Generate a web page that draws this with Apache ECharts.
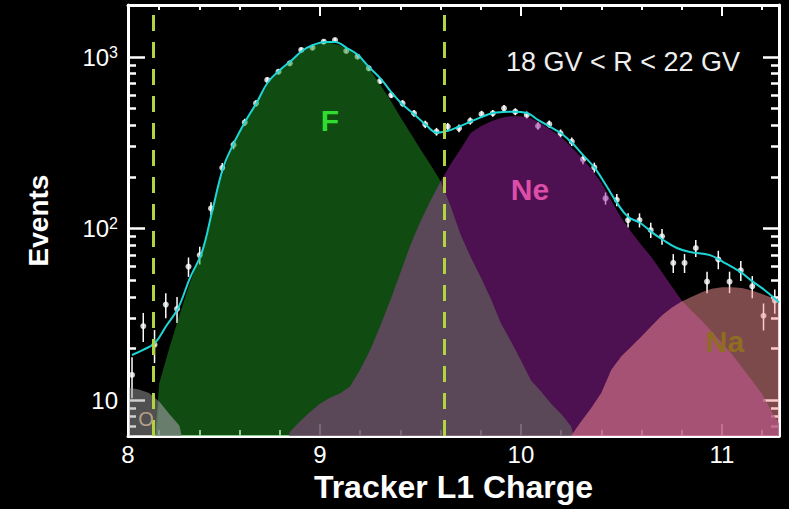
<!DOCTYPE html>
<html><head><meta charset="utf-8">
<script src="https://cdn.jsdelivr.net/npm/echarts@6/dist/echarts.min.js"></script>
<style>html,body{margin:0;padding:0;background:#000;} #c{width:789px;height:509px;}</style>
</head><body><div id="c"></div>
<script>
// ---------- data ----------
const binCenters = [8.065, 8.121, 8.177, 8.233, 8.289, 8.346, 8.402, 8.458, 8.514, 8.570,
  8.626, 8.682, 8.738, 8.794, 8.850, 8.907, 8.963, 9.019, 9.075, 9.131,
  9.187, 9.243, 9.299, 9.355, 9.411, 9.468, 9.524, 9.580, 9.636, 9.692,
  9.748, 9.804, 9.860, 9.916, 9.972, 10.029, 10.085, 10.141, 10.197, 10.253,
  10.309, 10.365, 10.421, 10.477, 10.533, 10.590, 10.646, 10.702, 10.758, 10.814,
  10.870, 10.926, 10.982, 11.038, 11.094, 11.151, 11.207, 11.263];
const eventCounts = [14, 27, 21, 36, 34, 60, 70, 131, 226, 307,
  416, 537, 735, 821, 919, 1099, 1133, 1228, 1256, 1084,
  1004, 859, 724, 600, 537, 470, 405, 367, 393, 384,
  424, 464, 470, 502, 480, 459, 396, 406, 359, 321,
  253, 227, 150, 147, 112, 112, 98, 90, 63, 63,
  77, 49, 66, 49, 57, 46, 31, 38];

const fitCharge = [8.065, 8.12, 8.179, 8.235, 8.294, 8.353, 8.413, 8.463, 8.518, 8.567,
  8.627, 8.687, 8.742, 8.801, 8.861, 8.911, 8.965, 9.025, 9.075, 9.134,
  9.189, 9.244, 9.308, 9.358, 9.41, 9.473, 9.528, 9.582, 9.637, 9.69,
  9.746, 9.80, 9.861, 9.91, 9.96, 10.03, 10.085, 10.145, 10.204, 10.254,
  10.309, 10.368, 10.428, 10.478, 10.533, 10.592, 10.652, 10.706, 10.776, 10.841,
  10.94, 11.005, 11.09, 11.154, 11.21, 11.264, 11.284];
const fitEvents = [18.3, 19.6, 21.5, 27, 34.3, 51.4, 72.9, 125, 225, 307,
  418, 547, 715, 840, 961, 1084, 1175, 1223, 1223, 1128,
  1027, 874, 734, 617, 530, 459, 401, 362, 372, 392,
  418, 445, 471, 478, 480, 471, 430, 391, 356, 316,
  268, 225, 175, 141, 117, 108, 95, 86, 77, 73,
  70, 64, 56, 49, 44, 39, 37];

const charge = [8.05, 8.10, 8.15, 8.20, 8.25, 8.30, 8.35, 8.40, 8.45, 8.50,
  8.55, 8.60, 8.65, 8.70, 8.75, 8.80, 8.85, 8.90, 8.95, 9.00,
  9.05, 9.10, 9.15, 9.20, 9.25, 9.30, 9.35, 9.40, 9.45, 9.50,
  9.55, 9.60, 9.65, 9.70, 9.75, 9.80, 9.85, 9.90, 9.95, 10.00,
  10.05, 10.10, 10.15, 10.20, 10.25, 10.30, 10.35, 10.40, 10.45, 10.50,
  10.55, 10.60, 10.65, 10.70, 10.75, 10.80, 10.85, 10.90, 10.95, 11.00,
  11.05, 11.10, 11.15, 11.20, 11.25, 11.30];
const fluorine = [null, null, 2, 12.5, 20, 31, 47, 68, 105, 183,
  272, 360, 460, 575, 720, 828, 925, 1045, 1138, 1190,
  1210, 1168, 1083, 980, 840, 690, 561, 447, 360, 290,
  235, 189, 135, 92, 68, 52, 39, 28, 22, 17,
  13, 11.2, 9.5, 8.3, 7.0, 4, null, null, null, null,
  null, null, null, null, null, null, null, null, null, null,
  null, null, null, null, null, null];
const neon = [null, null, null, null, null, null, null, null, null, null,
  null, null, null, null, null, 3, 6.5, 7.5, 8.5, 9.5,
  10.3, 10.9, 12, 15, 19.6, 27, 38, 55, 80, 110,
  145, 188, 237, 291, 360, 395, 420, 441, 452, 452,
  440, 410, 375, 342, 300, 260, 222, 185, 145, 115,
  95, 80, 68, 56, 46, 38, 33, 29, 25, 21.5,
  18.5, 15.5, 13, 10.8, 8.5, 6.8];
const sodium = [null, null, null, null, null, null, null, null, null, null,
  null, null, null, null, null, null, null, null, null, null,
  null, null, null, null, null, null, null, null, null, null,
  null, null, null, null, null, null, null, null, null, null,
  null, null, null, 3, 6.2, 7.5, 9, 11, 15, 18,
  20.5, 23.5, 27, 31, 34.5, 37.5, 40, 42.5, 44.5, 45.5,
  45.5, 45, 43.5, 41.5, 39.5, 37.5];
const oxygen = [11.8, 11.5, 11.0, 9.8, 8.3, 7.1, 4, null, null, null,
  null, null, null, null, null, null, null, null, null, null,
  null, null, null, null, null, null, null, null, null, null,
  null, null, null, null, null, null, null, null, null, null,
  null, null, null, null, null, null, null, null, null, null,
  null, null, null, null, null, null, null, null, null, null,
  null, null, null, null, null, null];

const xLabelValues = [8.045, 9, 10, 11];
const xMajorTicks = [9, 10, 11];
const xMinorTicks = [8.2, 8.4, 8.6, 8.8, 9.2, 9.4, 9.6, 9.8, 10.2, 10.4, 10.6, 10.8, 11.2];
const yMajorTicks = [10, 100, 1000];
const yMinorTicks = [7, 8, 9, 20, 30, 40, 50, 60, 70, 80, 90, 200, 300, 400, 500, 600, 700, 800, 900, 2000];
const cutLines = [8.174, 9.622];

// ---------- helpers ----------
const FONT = '"Liberation Sans", Arial, Helvetica, sans-serif';
const X_MIN = 8.045, X_MAX = 11.284, Y_MIN = 6.17, Y_MAX = 2010;
const pairs = (xs, ys) => xs.map((x, i) => [x, ys[i]]);
const overlap = (a, b) => a.map((v, i) => (v == null || b[i] == null) ? null : Math.min(v, b[i]));

function xAx(position, ticks, len, showLine, labels) {
  const ax = {
    type: 'value', position, min: X_MIN, max: X_MAX,
    axisLine: { show: showLine, onZero: false, lineStyle: { color: '#fff', width: 3 } },
    axisTick: { show: true, inside: true, length: len, customValues: ticks, lineStyle: { color: '#fff', width: 2 } },
    axisLabel: { show: false },
    splitLine: { show: false }, minorTick: { show: false }
  };
  if (labels) {
    ax.axisLabel = { show: true, customValues: xLabelValues, formatter: v => String(Math.round(v)),
      color: '#fff', fontSize: 24, fontFamily: FONT, margin: 6 };
    ax.name = 'Tracker L1 Charge';
    ax.nameLocation = 'middle';
    ax.nameGap = 35;
    ax.nameTextStyle = { color: '#fff', fontSize: 32, fontWeight: 'bold', fontFamily: FONT };
  }
  return ax;
}
function yAx(position, ticks, len, showLine, labels) {
  const ax = {
    type: 'log', logBase: 10, position, min: Y_MIN, max: Y_MAX,
    axisLine: { show: showLine, onZero: false, lineStyle: { color: '#fff', width: 3 } },
    axisTick: { show: true, inside: true, length: len, customValues: ticks, lineStyle: { color: '#fff', width: 2.5 } },
    axisLabel: { show: false },
    splitLine: { show: false }, minorTick: { show: false }
  };
  if (labels) {
    ax.axisLabel = {
      show: true, customValues: yMajorTicks, margin: 10, color: '#fff', fontSize: 24, fontFamily: FONT,
      formatter: v => { const e = Math.round(Math.log10(v)); return e === 1 ? '10' : '10{sup|' + e + '}'; },
      rich: { sup: { fontSize: 16, color: '#fff', fontFamily: FONT, verticalAlign: 'top', padding: [0, 0, 10, 0] } }
    };
    ax.name = 'Events';
    ax.nameLocation = 'middle';
    ax.nameGap = 76;
    ax.nameTextStyle = { color: '#fff', fontSize: 28, fontWeight: 'bold', fontFamily: FONT };
  }
  return ax;
}
function area(name, values, color, z) {
  return {
    type: 'line', name, data: pairs(charge, values), xAxisIndex: 0, yAxisIndex: 0,
    symbol: 'none', showSymbol: false, connectNulls: false, silent: true, z,
    lineStyle: { width: 0, opacity: 0 },
    areaStyle: { color, opacity: 0.5, origin: 'start' }
  };
}

const chart = echarts.init(document.getElementById('c'), null, { renderer: 'svg' });
chart.setOption({
  backgroundColor: '#000',
  animation: false,
  grid: { left: 128, right: 10, top: 5, bottom: 73, containLabel: false },
  xAxis: [
    xAx('bottom', xMajorTicks, 12, true, true),
    xAx('bottom', xMinorTicks, 6, false, false),
    xAx('top', xMajorTicks, 11, true, false),
    xAx('top', xMinorTicks, 5, false, false)
  ],
  yAxis: [
    yAx('left', yMajorTicks, 17, true, true),
    yAx('left', yMinorTicks, 8, false, false),
    yAx('right', yMajorTicks, 16, true, false),
    yAx('right', yMinorTicks, 8, false, false)
  ],
  graphic: [
    { type: 'text', x: 623, y: 62, z: 20, style: { text: '18 GV < R < 22 GV', fill: '#eeeeee', font: '27px ' + FONT, align: 'center', verticalAlign: 'middle' } },
    { type: 'text', x: 330, y: 120, z: 20, style: { text: 'F', fill: '#2fdc2f', font: 'bold 30px ' + FONT, align: 'center', verticalAlign: 'middle' } },
    { type: 'text', x: 530, y: 189, z: 20, style: { text: 'Ne', fill: '#dc4ea8', font: 'bold 30px ' + FONT, align: 'center', verticalAlign: 'middle' } },
    { type: 'text', x: 725, y: 341, z: 20, style: { text: 'Na', fill: '#8f6d22', font: 'bold 30px ' + FONT, align: 'center', verticalAlign: 'middle' } },
    { type: 'text', x: 146, y: 419, z: 20, style: { text: 'O', fill: '#b8a088', font: '20px ' + FONT, align: 'center', verticalAlign: 'middle' } }
  ],
  series: [
    {
      type: 'custom', name: 'errors', z: 1, clip: true,
      data: binCenters.map((x, i) => [x, eventCounts[i], Math.sqrt(eventCounts[i])]),
      renderItem: (params, api) => {
        const x = api.value(0), y = api.value(1), e = api.value(2);
        const a = api.coord([x, y + e]), b = api.coord([x, Math.max(y - e, 1)]);
        return { type: 'line', shape: { x1: a[0], y1: a[1], x2: b[0], y2: b[1] }, style: { stroke: '#fff', lineWidth: 1.5 } };
      }
    },
    { type: 'scatter', name: 'data', z: 1, data: pairs(binCenters, eventCounts), symbolSize: 6, itemStyle: { color: '#fff' }, silent: true },
    area('F', fluorine, 'rgb(32,152,36)', 2),
    area('Ne', neon, 'rgb(154,32,160)', 3),
    area('F+Ne', overlap(fluorine, neon), 'rgb(95,90,87)', 4),
    area('Na', sodium, 'rgb(248,148,148)', 5),
    area('Ne+Na', overlap(neon, sodium), 'rgb(170,82,118)', 6),
    area('O', oxygen, 'rgb(160,160,160)', 7),
    area('O+F', overlap(oxygen, fluorine), 'rgb(122,132,130)', 8),
    {
      type: 'line', name: 'fit', z: 9, data: pairs(fitCharge, fitEvents), smooth: 0.4,
      symbol: 'none', showSymbol: false, silent: true,
      lineStyle: { color: '#1fd6d6', width: 2 },
      markLine: {
        silent: true, symbol: ['none', 'none'], label: { show: false }, z: 10,
        lineStyle: { color: '#b2d43e', width: 3, type: [16, 11], opacity: 1 },
        data: cutLines.map(v => ({ xAxis: v }))
      }
    }
  ]
});
</script>
</body></html>
